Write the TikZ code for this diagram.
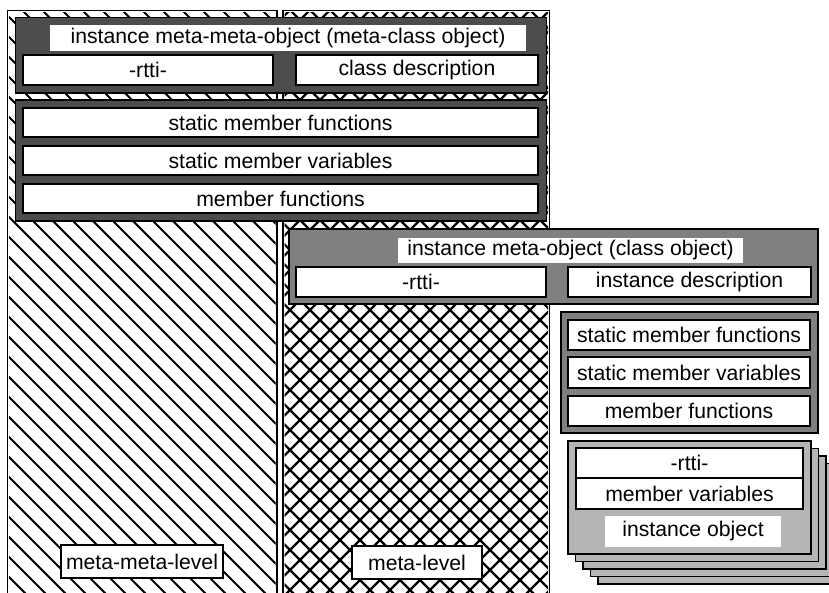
\documentclass[tikz,border=0pt]{standalone}
\usepackage{fontspec}
\setmainfont{Liberation Sans}
\definecolor{darkpanel}{gray}{0.30}
\definecolor{midpanel}{gray}{0.50}
\definecolor{lightpanel}{gray}{0.71}
\begin{document}
\begin{tikzpicture}[x=1pt,y=-1pt,
  font=\fontsize{21.2}{25}\selectfont,
  every node/.style={inner sep=0pt, outer sep=0pt},
  column/.style={draw=black, line width=1.5pt, fill=white},
  panel/.style={draw=black, line width=1.3pt, rectangle},
  field/.style={draw=black, line width=1.6pt, fill=white, rectangle},
  caption/.style={fill=white, rectangle},
  levelbox/.style={draw=black, line width=1.2pt, fill=white, rectangle},
  hatch/.style={line width=1.8pt, black},
  xhatch/.style={line width=2.3pt, black}]
\useasboundingbox (0,0) rectangle (829,592);

% meta-meta-level column with single hatching
\path[column] (7.5,10.5) rectangle (277,620);
\begin{scope}
  \clip (9,12) rectangle (275.5,620);
  \foreach \c in {-628,-608,...,292}
    \draw[hatch] (\c,0) -- ++(640,640);
\end{scope}
\draw[line width=1.5pt] (7.5,10.5) rectangle (277,620);

% meta-level column with cross hatching
\path[column] (283,10.5) rectangle (549.5,620);
\begin{scope}
  \clip (284.5,12) rectangle (548,620);
  \foreach \c in {-640,-620,...,560}
    \draw[xhatch] (\c,0) -- ++(640,640);
  \foreach \d in {280,300,...,1200}
    \draw[xhatch] (\d,0) -- ++(-640,640);
\end{scope}
\draw[line width=1.5pt] (283,10.5) rectangle (549.5,620);

% meta-class object
\node[panel, fill=darkpanel, minimum width=531, minimum height=75.5] (mcobj) at (281,55.25) {};
\node[caption, minimum width=476, minimum height=26] (mctitle) at (288,38) {instance meta-meta-object (meta-class object)};
\node[field, minimum width=250, minimum height=30] (mcrtti) at (148,70) {-rtti-};
\node[field, minimum width=242, minimum height=30] (mcdesc) at (417,70) {class description};

% meta-class members
\node[panel, fill=darkpanel, minimum width=531, minimum height=121] (mcmem) at (281,160.5) {};
\node[field, minimum width=515, minimum height=29] (mcsmf) at (280.5,122.5) {static member functions};
\node[field, minimum width=515, minimum height=29] (mcsmv) at (280.5,160.5) {static member variables};
\node[field, minimum width=515, minimum height=29] (mcmf) at (280.5,198.5) {member functions};

% class object
\node[panel, fill=midpanel, minimum width=529, minimum height=75] (cobj) at (553.5,266.5) {};
\node[caption, minimum width=345, minimum height=25] (ctitle) at (570.5,250.5) {instance meta-object (class object)};
\node[field, minimum width=250, minimum height=30] (crtti) at (421,282) {-rtti-};
\node[field, minimum width=243, minimum height=30] (cdesc) at (689.5,282) {instance description};

% class members
\node[panel, fill=midpanel, minimum width=257, minimum height=121] (cmem) at (689.5,372.5) {};
\node[field, minimum width=242, minimum height=30] (csmf) at (689,335) {static member functions};
\node[field, minimum width=242, minimum height=31] (csmv) at (689,372.5) {static member variables};
\node[field, minimum width=242, minimum height=30] (cmf) at (689,411) {member functions};

% stack of instance objects
\foreach \k in {4,3,2,1}
  \node[panel, fill=lightpanel, minimum width=243, minimum height=113] (inst\k) at (689.5+7.5*\k,497.5+7.5*\k) {};
\node[panel, fill=lightpanel, minimum width=243, minimum height=113] (inst) at (689.5,497.5) {};
\node[field, minimum width=227, minimum height=30] (irtti) at (689.5,463) {-rtti-};
\node[field, minimum width=227, minimum height=31] (ivars) at (689.5,493.5) {member variables};
\node[caption, minimum width=176, minimum height=31] (ititle) at (693,531.5) {instance object};

% level labels
\node[levelbox, minimum width=162, minimum height=33] (mmlevel) at (142,561.5) {meta-meta-level};
\node[levelbox, minimum width=130, minimum height=33] (mlevel) at (417,562.5) {meta-level};
\end{tikzpicture}
\end{document}
